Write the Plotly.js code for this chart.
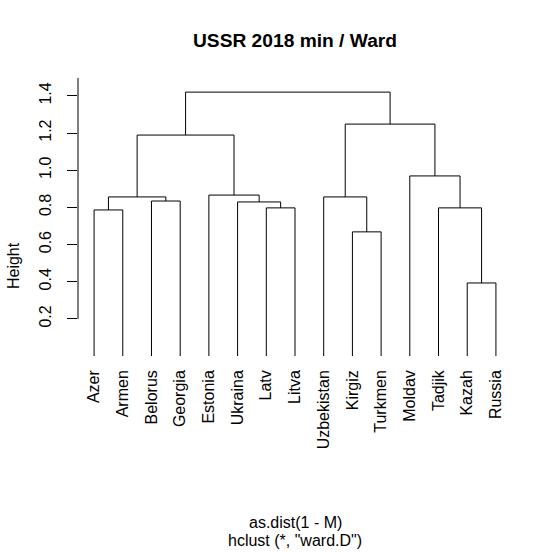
<!DOCTYPE html>
<html>
<head>
<meta charset="utf-8">
<script src="https://cdn.plot.ly/plotly-3.0.1.min.js"></script>
<style>html,body{margin:0;padding:0;background:#fff;}#chart{width:553px;height:552px;}</style>
</head>
<body>
<div id="chart"></div>
<script>
// Leaf labels in dendrogram order
var labels = ["Azer","Armen","Belorus","Georgia","Estonia","Ukraina","Latv","Litva","Uzbekistan","Kirgiz","Turkmen","Moldav","Tadjik","Kazah","Russia"];
// hclust-style merges: negative = leaf (1-based), positive = earlier merge (1-based)
var mergeLeft   = [-14, -10, -1, -7, -13, -6, -3, 3, -9, -5, -12, 8, 9, 12];
var mergeRight  = [-15, -11, -2, -8,   1,  4, -4, 7,  2,  6,   5, 10, 11, 13];
var mergeHeight = [0.393, 0.668, 0.786, 0.797, 0.797, 0.829, 0.834, 0.856, 0.856, 0.866, 0.969, 1.189, 1.248, 1.420];
// y-axis ticks
var yTicks = [0.2, 0.4, 0.6, 0.8, 1.0, 1.2, 1.4];
var yTickText = ["0.2", "0.4", "0.6", "0.8", "1.0", "1.2", "1.4"];

var n = labels.length;
var nodeX = [], nodeH = [];
function childPos(c) {
  if (c < 0) return {x: -c, h: 0};
  return {x: nodeX[c - 1], h: nodeH[c - 1]};
}
var xs = [], ys = [];
for (var i = 0; i < mergeLeft.length; i++) {
  var a = childPos(mergeLeft[i]), b = childPos(mergeRight[i]);
  var h = mergeHeight[i];
  nodeX.push((a.x + b.x) / 2);
  nodeH.push(h);
  xs.push(a.x, a.x, b.x, b.x, null);
  ys.push(a.h, h, h, b.h, null);
}
var leafIdx = labels.map(function(_, k){ return k + 1; });

var FONT = "Liberation Sans, Arial, Helvetica, sans-serif";
var W = 553, H = 552;
var mL = 78, mR = 41, mT = 78.3, mB = 195.5;
var plotW = W - mL - mR, plotH = H - mT - mB;
function px(x){ return (x - mL) / plotW; }
function py(y){ return (H - mB - y) / plotH; }
var yTop = 1.496;

var trace = {
  x: xs, y: ys, type: "scatter", mode: "lines",
  line: {color: "#000", width: 1}, hoverinfo: "skip", showlegend: false
};

var layout = {
  width: W, height: H,
  margin: {l: mL, r: mR, t: mT, b: mB, pad: 0},
  paper_bgcolor: "#fff", plot_bgcolor: "#fff",
  font: {family: FONT, size: 16, color: "#000"},
  title: {
    text: "USSR 2018 min / Ward",
    font: {family: FONT, size: 19.2, color: "#000", weight: "bold"},
    x: 0.5, xref: "paper", xanchor: "center",
    y: 1 - 40.5 / H, yref: "container", yanchor: "middle"
  },
  xaxis: {
    range: [0.44, n + 0.56], showgrid: false, zeroline: false, showline: false,
    tickvals: leafIdx, ticktext: labels, tickangle: -90, ticks: "",
    tickfont: {family: FONT, size: 16, color: "#000"},
    ticklabelstandoff: 10, fixedrange: true
  },
  yaxis: {
    range: [0, yTop], showgrid: false, zeroline: false, showline: false,
    tickvals: yTicks, ticktext: yTickText, tickangle: -90,
    ticks: "outside", ticklen: 10, tickwidth: 1, tickcolor: "#000",
    tickfont: {family: FONT, size: 16, color: "#000"},
    ticklabelstandoff: 10, fixedrange: true
  },
  shapes: [{
    type: "line", xref: "paper", yref: "y", x0: 0, x1: 0, y0: yTicks[0], y1: yTop,
    line: {color: "#000", width: 1}
  }],
  annotations: [
    {text: "Height", xref: "paper", yref: "paper", x: px(13), y: py(266.5),
     xanchor: "center", yanchor: "middle", textangle: -90, showarrow: false,
     font: {family: FONT, size: 16, color: "#000"}},
    {text: "as.dist(1 - M)", xref: "paper", yref: "paper", x: px(295), y: py(523),
     xanchor: "center", yanchor: "middle", showarrow: false,
     font: {family: FONT, size: 16, color: "#000"}},
    {text: "hclust (*, \"ward.D\")", xref: "paper", yref: "paper", x: px(295), y: py(541.5),
     xanchor: "center", yanchor: "middle", showarrow: false,
     font: {family: FONT, size: 16, color: "#000"}}
  ]
};

Plotly.newPlot("chart", [trace], layout, {displayModeBar: false, staticPlot: true});
</script>
</body>
</html>
